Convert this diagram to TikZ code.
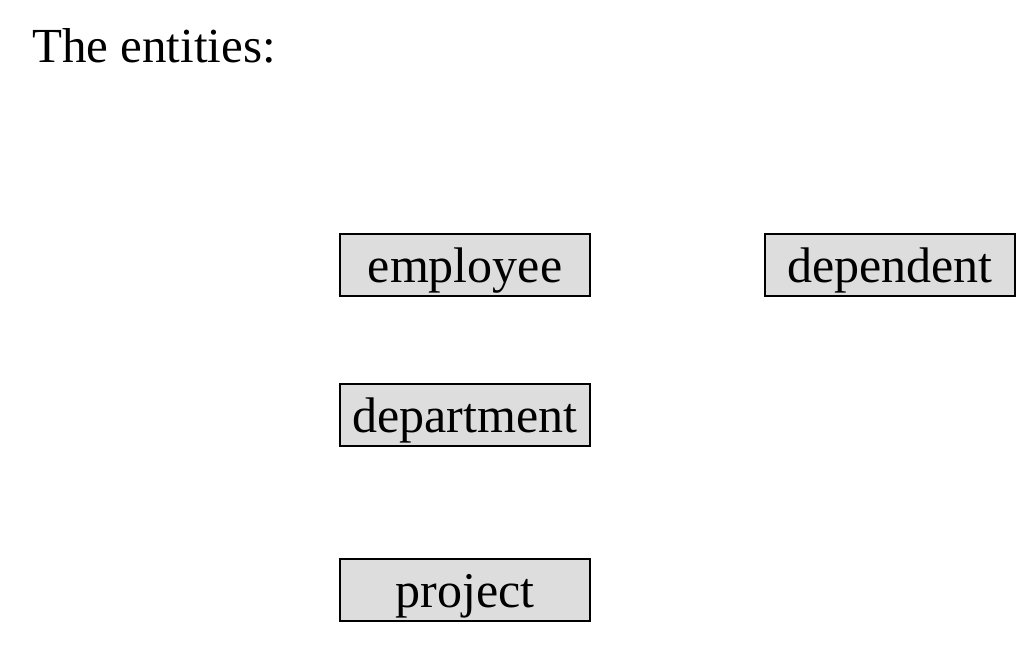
\documentclass[tikz,border=0pt]{standalone}
\usepackage{fontspec}
\setmainfont{Liberation Serif}
\definecolor{boxgray}{HTML}{DDDDDD}
\begin{document}
\begin{tikzpicture}[x=1pt,y=-1pt,
  entity/.style={draw=black, line width=1.8pt, fill=boxgray, inner sep=0pt,
    minimum width=250pt, minimum height=62pt, text height=39pt, text depth=4pt,
    font=\fontsize{50}{54}\selectfont},
  titletext/.style={anchor=base west, inner sep=0pt, font=\fontsize{49}{53}\selectfont}]
\useasboundingbox (0,0) rectangle (1023,650);
\node[titletext] (title) at (32,63) {The entities:};
\node[entity] (employee) at (465,265) {employee};
\node[entity] (dependent) at (890,265) {dependent};
\node[entity] (department) at (465,415) {department};
\node[entity] (project) at (465,590) {project};
\end{tikzpicture}
\end{document}
